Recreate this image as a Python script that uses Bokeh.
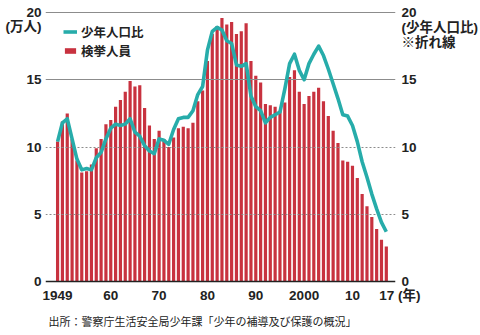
from bokeh.plotting import figure
from bokeh.models import Range1d, LinearAxis, FixedTicker, Legend, LegendItem, Title
from bokeh.embed import file_html
from bokeh.resources import INLINE

years = list(range(1949, 2018))
arrests = [10.4, 11.9, 12.5, 10.6, 9.0, 8.1, 8.2, 8.7, 9.9, 10.6,
           11.7, 12.0, 13.0, 13.5, 14.1, 14.9, 14.5, 14.6, 12.9, 11.6,
           10.6, 11.2, 10.6, 10.0, 10.7, 11.4, 11.5, 11.4, 11.8, 13.4,
           14.2, 16.4, 18.4, 19.0, 19.6, 19.1, 19.3, 18.4, 18.6, 19.2,
           16.4, 15.3, 14.8, 13.2, 13.1, 13.0, 12.7, 13.3, 15.2, 15.7,
           14.1, 13.2, 13.8, 14.1, 14.4, 13.4, 12.3, 11.2, 10.3, 9.0,
           8.9, 8.6, 7.7, 6.5, 5.6, 4.8, 3.9, 3.1, 2.6]
ratio = [10.4, 11.8, 12.1, 10.6, 9.1, 8.3, 8.4, 8.3, 9.2, 9.6,
         10.6, 11.4, 11.7, 11.6, 11.7, 12.1, 11.1, 10.8, 10.1, 9.7,
         9.5, 10.6, 10.5, 10.2, 11.3, 12.1, 12.2, 12.2, 12.7, 13.9,
         14.5, 17.2, 18.6, 18.9, 18.7, 17.9, 17.7, 16.1, 16.0, 16.2,
         13.8, 13.0, 12.7, 11.8, 12.2, 12.4, 12.6, 14.3, 16.2, 16.9,
         15.7, 15.0, 16.2, 16.9, 17.5, 16.8, 15.8, 14.7, 13.6, 12.4,
         12.3, 11.6, 10.4, 8.9, 7.75, 6.5, 5.4, 4.4, 3.7]
x_ticks = [1949, 1960, 1970, 1980, 1990, 2000, 2010, 2017]
x_tick_labels = ["1949", "60", "70", "80", "90", "2000", "10", "17"]
x_unit = "(年)"
y_ticks = [0, 5, 10, 15, 20]
solid_grid = [15, 20]
dashed_grid = [5, 10]
left_unit = "(万人)"
right_unit = ["(少年人口比)", "※折れ線"]
source_text = "出所：警察庁生活安全局少年課「少年の補導及び保護の概況」"

# positions (in axis units) where the unit captions sit under the top tick label
LEFT_UNIT_POS = 18.96
RIGHT_UNIT_POS = [18.88, 17.76]

RED = "#c8323f"
TEAL = "#27acaa"
TXT = "#222222"
NUMFONT = "Liberation Sans, Noto Sans CJK JP"
JPFONT = "Noto Sans CJK JP"

p = figure(width=480, height=335, output_backend="svg", toolbar_location=None,
           x_range=Range1d(1946.5, 2018.9), y_range=Range1d(-0.15, 20.15),
           min_border_left=45, min_border_right=85, min_border_top=10,
           min_border_bottom=52)
p.outline_line_color = None
p.xgrid.visible = False
p.ygrid.visible = False
p.background_fill_color = "white"
p.border_fill_color = "white"

p.extra_y_ranges = {"ratio": Range1d(-0.15, 20.15)}

bars = p.vbar(x=years, top=arrests, width=0.66, fill_color=RED, line_color=None)
p.hspan(y=solid_grid, line_color="#8c8c8c", line_width=1)
p.hspan(y=dashed_grid, line_color="#8c8c8c", line_width=1, line_dash="2 2")
p.hspan(y=[0], line_color="#222222", line_width=1.6)
line = p.line(years, ratio, y_range_name="ratio", line_color=TEAL, line_width=3.6,
              line_join="round")

def style_axis(ax):
    ax.axis_line_color = None
    ax.major_tick_line_color = None
    ax.minor_tick_line_color = None
    ax.major_tick_out = 0
    ax.major_tick_in = 0
    ax.minor_tick_out = 0
    ax.minor_tick_in = 0
    ax.major_label_text_font = NUMFONT
    ax.major_label_text_font_style = "bold"
    ax.major_label_text_font_size = "13.5px"
    ax.major_label_text_color = TXT

# left axis: counts (万人) with unit caption under "20"
style_axis(p.yaxis[0])
p.yaxis[0].ticker = FixedTicker(ticks=y_ticks + [LEFT_UNIT_POS])
p.yaxis[0].major_label_overrides = {LEFT_UNIT_POS: left_unit}
p.yaxis[0].major_label_standoff = 4

# right axis: ratio, with caption lines under "20"
rax = LinearAxis(y_range_name="ratio", ticker=FixedTicker(ticks=y_ticks + RIGHT_UNIT_POS))
style_axis(rax)
rax.major_label_overrides = {pos: t for pos, t in zip(RIGHT_UNIT_POS, right_unit)}
rax.major_label_standoff = 6
p.add_layout(rax, "right")

# x axis; the last label carries the year unit, padded so "17" stays on its tick
style_axis(p.xaxis[0])
p.xaxis[0].ticker = FixedTicker(ticks=x_ticks)
overrides = {t: l for t, l in zip(x_ticks, x_tick_labels)}
overrides[x_ticks[-1]] = "\u3000\u3000" + x_tick_labels[-1] + " " + x_unit
p.xaxis[0].major_label_overrides = overrides
p.xaxis[0].major_label_standoff = 4

src = Title(text=source_text, align="left", offset=3, standoff=11,
            text_font=JPFONT, text_font_style="normal", text_font_size="11px",
            text_color=TXT)
p.add_layout(src, "below")

legend = Legend(items=[LegendItem(label="少年人口比", renderers=[line]),
                       LegendItem(label="検挙人員", renderers=[bars])],
                location=(18, 223))
legend.background_fill_alpha = 0
legend.border_line_color = None
legend.label_text_font = JPFONT
legend.label_text_font_style = "bold"
legend.label_text_font_size = "12.5px"
legend.label_text_color = TXT
legend.label_text_line_height = 0.95
legend.label_height = 14
legend.glyph_width = 14
legend.glyph_height = 7
legend.label_standoff = 4
legend.spacing = 0
legend.padding = 0
legend.margin = 0
p.add_layout(legend, "center")

open("out.html", "w").write(file_html(p, INLINE))
